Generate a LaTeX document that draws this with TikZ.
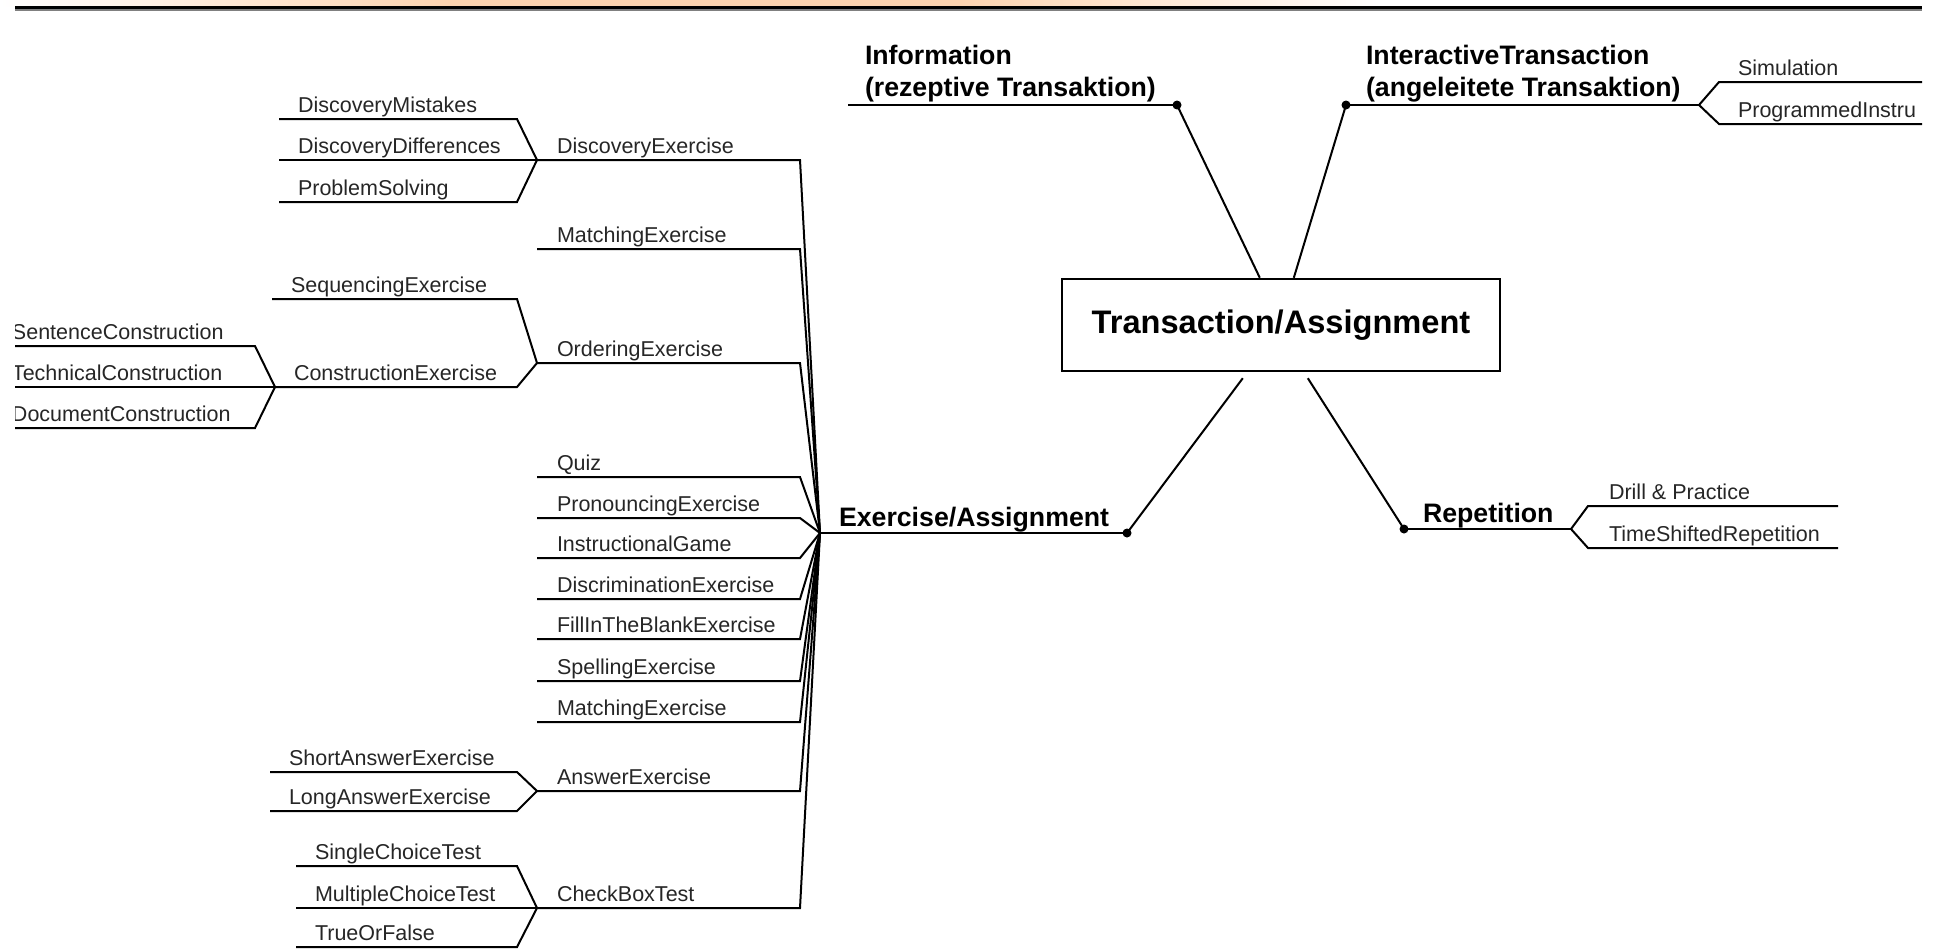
\documentclass[tikz,border=0pt]{standalone}
\usepackage{fontspec}
\setmainfont{Liberation Sans}
\usetikzlibrary{calc}
\definecolor{peach}{HTML}{FDD4B0}
\definecolor{ink}{HTML}{262626}
\tikzset{
	leaf/.style={anchor=base west,inner sep=0pt,text=ink,font=\fontsize{21.5}{26}\selectfont},
	topic/.style={anchor=base west,inner sep=0pt,align=left,font=\bfseries\fontsize{26.7}{32}\selectfont},
	hub/.style={draw,line width=2.4pt,minimum width=438pt,minimum height=92pt,inner sep=0pt,font=\bfseries\fontsize{32.6}{38}\selectfont},
	knot/.style={circle,fill,inner sep=0pt,minimum size=9pt}
}

\begin{document}
\begin{tikzpicture}[x=1pt,y=-1pt,line width=2pt]
	\useasboundingbox (0,0) rectangle (1934,948);
	\shade[left color=white,right color=peach] (0,0) rectangle (450,6.5);
	\fill[peach] (450,0) rectangle (960,6.5);
	\shade[left color=peach,right color=white] (960,0) rectangle (1380,6.5);
	\draw[gray,line width=1.2pt] (15,10) -- (1922,10);
	\draw[line width=2.8pt] (15,7.5) -- (1922,7.5);
	\node[hub] (T) at (1281,325) {Transaction/Assignment};
	\path (1177,105) coordinate (info) (1346,105) coordinate (inter) (1127,533) coordinate (exer) (1404,529) coordinate (rep) (820,533) coordinate (C);
	\draw (info) -- ($(T.north west)+(199,0)$) (inter) -- ($(T.north west)+(233,0)$);
	\draw (exer) -- ($(T.south west)+(182,6)$) (rep) -- ($(T.south west)+(247,6)$);
	\draw (848,105) -- (info) (inter) -- (1699,105) coordinate (i1) (C) -- (exer) (rep) -- (1571,529) coordinate (r1);
	\foreach \x in {info,inter,exer,rep} \node[knot] (k-\x) at (\x) {};
	\node[topic] (tInfo) at (864,96) {Information\\(rezeptive Transaktion)};
	\node[topic] (tInter) at (1365,96) {InteractiveTransaction\\(angeleitete Transaktion)};
	\node[topic] (tExer) at (838,526) {Exercise/Assignment};
	\node[topic] (tRep) at (1422,522) {Repetition};
	\foreach \t/\y in {Simulation/82,ProgrammedInstru/124}
		\draw (i1) -- (1719,\y) -- (1922,\y) node[leaf] (s\y) at (1737,\y-7) {\t};
	\foreach \t/\y in {Drill \& Practice/506,TimeShiftedRepetition/548}
		\draw (r1) -- (1588,\y) -- (1838,\y) node[leaf] (d\y) at (1608,\y-7) {\t};
	\begin{scope}
		\clip (15,12) rectangle (1922,948);
		\foreach \t/\y in {DiscoveryExercise/160,MatchingExercise/249,OrderingExercise/363,Quiz/477,PronouncingExercise/518,InstructionalGame/558,DiscriminationExercise/599,FillInTheBlankExercise/639,SpellingExercise/681,MatchingExercise/722,AnswerExercise/791,CheckBoxTest/908}
			\draw (537,\y) -- (800,\y) -- (C) node[leaf] (e\y) at (556,\y-7) {\t};
		\foreach \t/\y/\g/\x/\j in {DiscoveryMistakes/119/160/279/537,DiscoveryDifferences/160/160/279/537,ProblemSolving/202/160/279/537,
				SequencingExercise/299/363/272/537,ConstructionExercise/387/363/275/537,
				ShortAnswerExercise/772/791/270/537,LongAnswerExercise/811/791/270/537,
				SingleChoiceTest/866/908/296/537,MultipleChoiceTest/908/908/296/537,TrueOrFalse/947/908/296/537,
				SentenceConstruction/346/387/-7/275,TechnicalConstruction/387/387/-7/275,DocumentConstruction/428/387/-7/275}
			\draw (\x,\y) -- (\j-20,\y) -- (\j,\g) node[leaf] (l\j-\y) at (\x+18,\y-7) {\t};
	\end{scope}
\end{tikzpicture}
\end{document}
